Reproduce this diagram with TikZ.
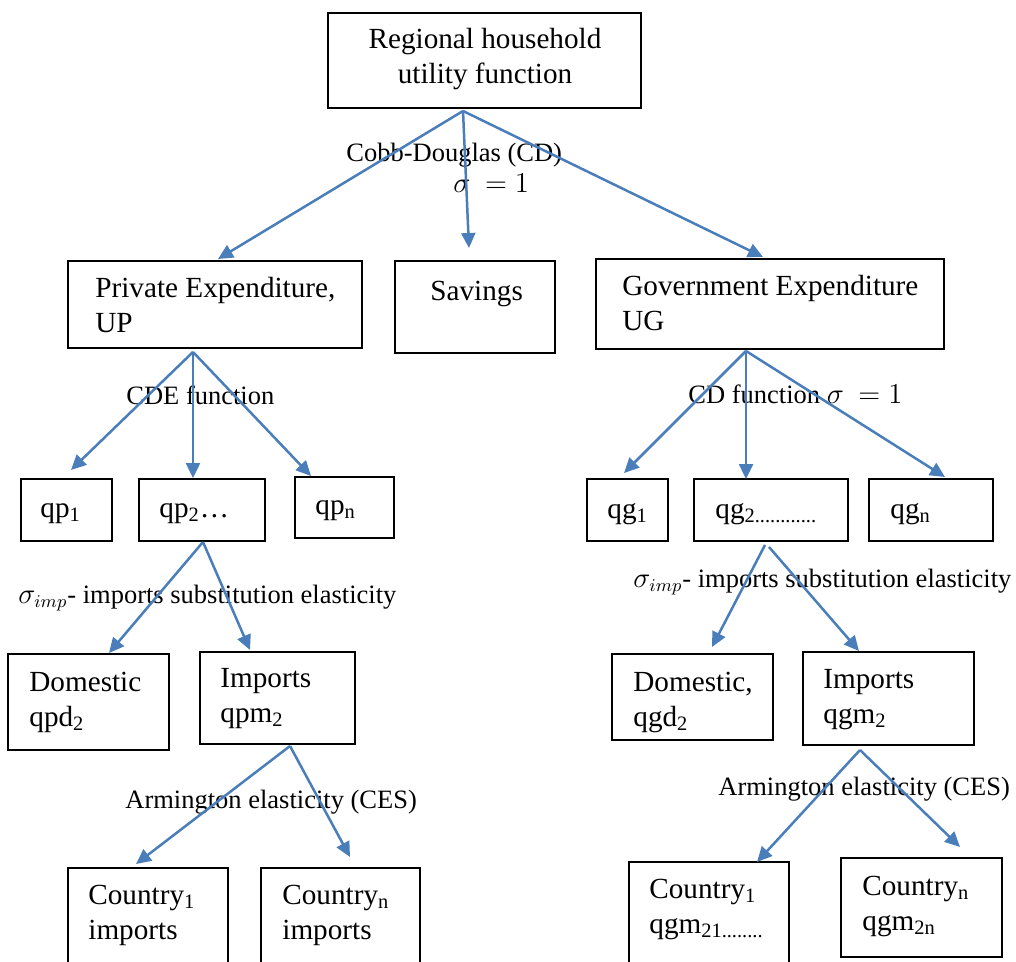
\documentclass[tikz,border=0pt]{standalone}
\usepackage{fontspec}
\setmainfont{Liberation Serif}
\usetikzlibrary{arrows.meta,fit}
\definecolor{linkblue}{HTML}{4A7EBB}
\newcommand{\lowidx}[1]{\textsubscript{#1}}

\tikzset{
  box/.style={draw=black, line width=0.8pt, inner sep=0pt},
  % multi-line texts are placed by the baseline of their last line
  txt/.style={inner sep=0pt, anchor=base west, align=left,
              font=\fontsize{14.6}{17.5}\selectfont},
  lbl/.style={inner sep=0pt, anchor=base west,
              font=\fontsize{13.25}{16}\selectfont},
  link/.style={draw=linkblue, line width=1.25pt,
               -{Triangle[length=7.5pt,width=7pt]}},
}

\begin{document}
\begin{tikzpicture}[x=0.5pt,y=-0.5pt]
\useasboundingbox (0,0) rectangle (1016,962);
\clip (0,0) rectangle (1016,962);

% ---- boxes ----
\node[box, fit={(328,13) (641,108)}] (hh) {};
\node[box, fit={(68,261) (362,348)}] (pe) {};
\node[box, fit={(395,261) (555,353)}] (sav) {};
\node[box, fit={(596,259) (944,349)}] (ge) {};

\node[box, fit={(21,479) (112,541)}] (qp1) {};
\node[box, fit={(139,479) (265,541)}] (qp2) {};
\node[box, fit={(295,477) (394,538)}] (qpn) {};
\node[box, fit={(587,479) (668,541)}] (qg1) {};
\node[box, fit={(694,479) (848,541)}] (qg2) {};
\node[box, fit={(869,479) (993,541)}] (qgn) {};

\node[box, fit={(8,654) (169,750)}] (pd) {};
\node[box, fit={(200,652) (355,744)}] (pm) {};
\node[box, fit={(612,654) (773,740)}] (gd) {};
\node[box, fit={(803,652) (974,745)}] (gm) {};

\node[box, fit={(68,868) (228,970)}] (pc1) {};
\node[box, fit={(261,868) (420,970)}] (pcn) {};
\node[box, fit={(629,862) (789,970)}] (gc1) {};
\node[box, fit={(841,858) (1002,957)}] (gcn) {};

% ---- box texts ----
\node[txt, anchor=base, align=center] (thh) at (485,84) {Regional household\\utility function};
\node[txt] (tpe) at (95,333) {Private Expenditure,\\UP};
\node[txt] (tsav) at (430,300) {Savings};
\node[txt] (tge) at (622,331) {Government Expenditure\\UG};

\node[txt] (tqp1) at (40,517) {qp\lowidx{1}};
\node[txt] (tqp2) at (159,517) {qp\lowidx{2}\dots};
\node[txt] (tqpn) at (315,514) {qp\lowidx{n}};
\node[txt] (tqg1) at (607,518) {qg\lowidx{1}};
\node[txt] (tqg2) at (715,518) {qg\lowidx{2............}};
\node[txt] (tqgn) at (890,518) {qg\lowidx{n}};

\node[txt] (tpd) at (29,726) {Domestic\\qpd\lowidx{2}};
\node[txt] (tpm) at (220,722) {Imports\\qpm\lowidx{2}};
\node[txt] (tgd) at (633,726) {Domestic,\\qgd\lowidx{2}};
\node[txt] (tgm) at (823,723) {Imports\\qgm\lowidx{2}};

\node[txt] (tpc1) at (88,939) {Country\lowidx{1}\\imports};
\node[txt] (tpcn) at (282,939) {Country\lowidx{n}\\imports};
\node[txt] (tgc1) at (649,933) {Country\lowidx{1}\\qgm\lowidx{21........}};
\node[txt] (tgcn) at (862,930) {Country\lowidx{n}\\qgm\lowidx{2n}};

% ---- connector end points ----
\coordinate (hhS) at (463,111);
\coordinate (toPE) at (218,259);
\coordinate (toSav) at (469,248);
\coordinate (toGE) at (763,257);

\coordinate (peS) at (193,352);
\coordinate (toQP1) at (71,470);
\coordinate (toQP2) at (193,478);
\coordinate (toQPn) at (311,476);

\coordinate (geS) at (746,351);
\coordinate (toQG1) at (624,473);
\coordinate (toQG2) at (746,479);
\coordinate (toQGn) at (945,477);

\coordinate (qp2S) at (203,542);
\coordinate (toPD) at (109,653);
\coordinate (toPM) at (250,650);

\coordinate (qg2Sa) at (765,545);
\coordinate (qg2Sb) at (769,547);
\coordinate (toGD) at (712,647);
\coordinate (toGM) at (859,651);

\coordinate (pmS) at (290,746);
\coordinate (toPC1) at (136,864);
\coordinate (toPCn) at (350,857);

\coordinate (gmS) at (860,750);
\coordinate (toGC1) at (757,862);
\coordinate (toGCn) at (960,847);

% ---- connector labels ----
\node[lbl] (lcd) at (346,162) {Cobb-Douglas (CD)};
\node[lbl] (lcds) at (453,193) {$\sigma\ = 1$};
\node[lbl] (lcde) at (126,404) {CDE function};
\node[lbl] (lcdf) at (688,403) {CD function $\sigma\ = 1$};
\node[lbl] (limpL) at (18,603) {$\sigma_{imp}$- imports substitution elasticity};
\node[lbl] (limpR) at (633,587) {$\sigma_{imp}$- imports substitution elasticity};
\node[lbl] (larmL) at (125,808) {Armington elasticity (CES)};
\node[lbl] (larmR) at (718,795) {Armington elasticity (CES)};

% ---- connectors ----
\draw[link] (hhS) -- (toPE);
\draw[link] (hhS) -- (toSav);
\draw[link] (hhS) -- (toGE);

\draw[link] (peS) -- (toQP1);
\draw[link] (peS) -- (toQP2);
\draw[link] (peS) -- (toQPn);

\draw[link] (geS) -- (toQG1);
\draw[link] (geS) -- (toQG2);
\draw[link] (geS) -- (toQGn);

\draw[link] (qp2S) -- (toPD);
\draw[link] (qp2S) -- (toPM);

\draw[link] (qg2Sa) -- (toGD);
\draw[link] (qg2Sb) -- (toGM);

\draw[link] (pmS) -- (toPC1);
\draw[link] (pmS) -- (toPCn);

\draw[link] (gmS) -- (toGC1);
\draw[link] (gmS) -- (toGCn);
\end{tikzpicture}
\end{document}
